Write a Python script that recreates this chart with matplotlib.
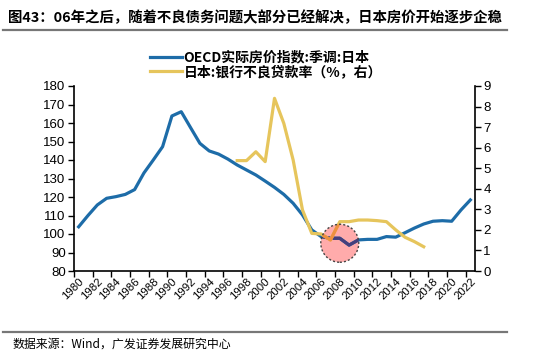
import matplotlib
matplotlib.use("Agg")
import matplotlib.pyplot as plt
from matplotlib.patches import Ellipse
from matplotlib.lines import Line2D

plt.rcParams['font.family'] = ['Liberation Sans', 'Noto Sans CJK SC', 'DejaVu Sans']

years = list(range(1980, 2023))
oecd_index = [103.9, 110.0, 115.7, 119.3, 120.2, 121.4, 124.0, 133.0, 140.0, 147.2,
              163.8, 166.1, 157.5, 149.0, 144.9, 143.2, 140.5, 137.3, 134.6, 131.9,
              128.6, 125.2, 121.4, 116.6, 110.3, 102.2, 98.6, 97.7, 97.7, 94.0,
              96.8, 97.1, 97.1, 98.6, 98.3, 100.7, 103.2, 105.4, 106.9, 107.2,
              106.9, 113.0, 118.4]
npl_years = list(range(1997, 2018))
npl_ratio = [5.37, 5.37, 5.8, 5.32, 8.4, 7.18, 5.4, 2.97, 1.83, 1.8,
             1.51, 2.4, 2.4, 2.48, 2.48, 2.45, 2.4, 2.0, 1.64, 1.43, 1.18]
label_years = list(range(1980, 2023, 2))
left_ticks = list(range(80, 181, 10))
right_ticks = list(range(0, 10))

title = "图43：06年之后，随着不良债务问题大部分已经解决，日本房价开始逐步企稳"
source = "数据来源：Wind，广发证券发展研究中心"
label_blue = "OECD实际房价指数:季调:日本"
label_yellow = "日本:银行不良贷款率（%，右）"

blue = '#1D6CA8'
yellow = '#E6C55C'
blue_in = '#463F7C'
yellow_in = '#EE9040'
pink = '#FFABAB'

W, H = 550, 355
fig = plt.figure(figsize=(W / 100, H / 100), dpi=100)
ax = fig.add_axes([74 / W, 1 - 271 / H, (475 - 74) / W, (271 - 86) / H])
ax2 = ax.twinx()

# highlight circle size (px -> data units)
rx = 19 / ((475 - 74) / 43.0)
ry = 19 / ((271 - 86) / 100.0)
cx, cy = 2008.0, 95.0
circle_fill = Ellipse((cx, cy), 2 * rx, 2 * ry, facecolor=pink, edgecolor='none',
                      zorder=1, transform=ax.transData)
ax.add_patch(circle_fill)

ax.plot(years, oecd_index, color=blue, lw=2.3, solid_joinstyle='round', zorder=3)
ln_b = ax.plot(years, oecd_index, color=blue_in, lw=2.3, solid_joinstyle='round', zorder=4)[0]
ln_b.set_clip_path(circle_fill)

ax2.plot(npl_years, npl_ratio, color=yellow, lw=2.3, solid_joinstyle='round', zorder=3)
ln_y = ax2.plot(npl_years, npl_ratio, color=yellow_in, lw=2.3, solid_joinstyle='round', zorder=4)[0]
ln_y.set_clip_path(Ellipse((cx, cy), 2 * rx, 2 * ry, transform=ax.transData))

ax2.add_patch(Ellipse((cx, cy), 2 * rx, 2 * ry, facecolor='none', edgecolor='#444444',
                      linestyle=(0, (1.5, 1.5)), lw=1.0, zorder=10,
                      transform=ax.transData, clip_on=False))

ax.set_xlim(1979.5, 2022.5)
ax.set_ylim(80, 180)
ax2.set_ylim(0, 9)
ax.set_yticks(left_ticks)
ax2.set_yticks(right_ticks)

ax.set_xticks(label_years)
ax.set_xticklabels([str(y) for y in label_years], rotation=45, ha='right',
                   va='top', rotation_mode='anchor', fontsize=8.2)
ax.tick_params(axis='x', which='major', length=0, pad=4)
ax.set_xticks([y - 0.5 for y in range(1980, 2024, 2)], minor=True)
ax.tick_params(axis='x', which='minor', length=4, width=1, direction='out')
ax.tick_params(axis='y', length=4, width=1, direction='out', labelsize=9.5, pad=2)
ax2.tick_params(axis='y', length=4, width=1, direction='out', labelsize=9.5, pad=2)

for a in (ax, ax2):
    a.spines['top'].set_visible(False)
    for s in ('left', 'right', 'bottom'):
        a.spines[s].set_linewidth(1.2)
        a.spines[s].set_color('black')
ax.spines['right'].set_visible(False)
ax2.spines['left'].set_visible(False)
ax2.spines['bottom'].set_visible(False)

# legend
handles = [Line2D([0], [0], color=blue, lw=2.3), Line2D([0], [0], color=yellow, lw=2.3)]
leg = fig.legend(handles, [label_blue, label_yellow], loc='upper left',
                 bbox_to_anchor=(140 / W, 1 - 41 / H), frameon=False,
                 handlelength=2.3, handletextpad=0.15, labelspacing=0.02,
                 borderpad=0.2,
                 prop={'family': ['Noto Sans CJK SC', 'DejaVu Sans'], 'size': 10, 'weight': 'bold'})

# title and rules
fig.text(8 / W, 1 - 18 / H, title, fontsize=10.4, fontweight='bold',
         family=['Noto Sans CJK SC', 'DejaVu Sans'], va='center', ha='left')
fig.add_artist(Line2D([3 / W, 507 / W], [1 - 30 / H, 1 - 30 / H], color='#777777', lw=1.6))
fig.add_artist(Line2D([3 / W, 507 / W], [1 - 332 / H, 1 - 332 / H], color='#777777', lw=1.6))
fig.text(12 / W, 1 - 344 / H, source, fontsize=8.6, family=['Noto Sans CJK SC', 'DejaVu Sans'],
         va='center', ha='left')

fig.savefig('out.png', dpi=100)
